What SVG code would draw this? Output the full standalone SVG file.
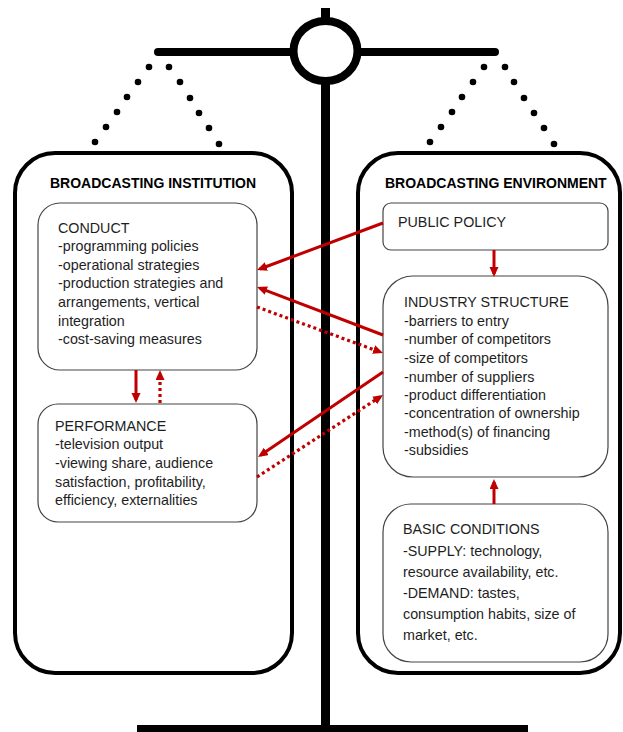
<svg xmlns="http://www.w3.org/2000/svg" width="623" height="732" viewBox="0 0 623 732">
<style>
.frame{fill:#fff;stroke:#000;stroke-width:4}
.box{fill:#fff;stroke:#444;stroke-width:1.2}
.t{font-family:"Liberation Sans",Arial,sans-serif;font-size:14.3px;fill:#1e1e1e}
.title{font-family:"Liberation Sans",Arial,sans-serif;font-size:14px;font-weight:bold;fill:#000}
.solid{stroke:#c00000;stroke-width:3;fill:none;marker-end:url(#ah)}
.dot{stroke:#c00000;stroke-width:3.2;fill:none;stroke-dasharray:3 3;marker-end:url(#ah)}
.pd{fill:#000}
</style>
<defs>
<marker id="ah" markerUnits="userSpaceOnUse" markerWidth="12" markerHeight="11" refX="7" refY="4.5" orient="auto">
<path d="M0,0 L10,4.5 L0,9 z" fill="#c00000"/>
</marker>
</defs>
<g id="scale">
<rect x="321" y="8" width="9" height="724" fill="#000"/>
<line x1="158" y1="52" x2="495" y2="52" stroke="#000" stroke-width="8" stroke-linecap="round"/>
<ellipse cx="325.5" cy="51" rx="32" ry="30" fill="#fff" stroke="#000" stroke-width="8"/>
<rect x="137" y="725" width="391" height="8" fill="#000"/>
<g class="pd">
<circle cx="149" cy="67" r="3.3"/><circle cx="138" cy="82" r="3.3"/><circle cx="127" cy="97" r="3.3"/><circle cx="117" cy="112" r="3.3"/><circle cx="106" cy="127" r="3.3"/><circle cx="95" cy="142" r="3.3"/>
<circle cx="169" cy="67" r="3.3"/><circle cx="180" cy="82" r="3.3"/><circle cx="190" cy="98" r="3.3"/><circle cx="199" cy="113" r="3.3"/><circle cx="209" cy="128" r="3.3"/><circle cx="219" cy="144" r="3.3"/>
<circle cx="484" cy="67" r="3.3"/><circle cx="473" cy="82" r="3.3"/><circle cx="462" cy="97" r="3.3"/><circle cx="452" cy="112" r="3.3"/><circle cx="441" cy="127" r="3.3"/><circle cx="430" cy="142" r="3.3"/>
<circle cx="505" cy="67" r="3.3"/><circle cx="514" cy="82" r="3.3"/><circle cx="524" cy="98" r="3.3"/><circle cx="534" cy="113" r="3.3"/><circle cx="544" cy="128" r="3.3"/><circle cx="554" cy="144" r="3.3"/>
</g>
</g>
<g id="institution">
<rect class="frame" x="15" y="153" width="277" height="520" rx="40"/>
<text class="title" x="50" y="188">BROADCASTING INSTITUTION</text>
</g>
<g id="environment">
<rect class="frame" x="358" y="153" width="262" height="520" rx="40"/>
<text class="title" x="385" y="188">BROADCASTING ENVIRONMENT</text>
</g>
<g id="conduct">
<rect class="box" x="38" y="203" width="219" height="167" rx="22"/>
<text class="t" x="58" y="233">CONDUCT</text>
<text class="t" x="58" y="251">-programming policies</text>
<text class="t" x="58" y="270">-operational strategies</text>
<text class="t" x="58" y="288">-production strategies and</text>
<text class="t" x="58" y="307">arrangements, vertical</text>
<text class="t" x="58" y="326">integration</text>
<text class="t" x="58" y="344">-cost-saving measures</text>
</g>
<g id="performance">
<rect class="box" x="38" y="404" width="219" height="118" rx="20"/>
<text class="t" x="55" y="431">PERFORMANCE</text>
<text class="t" x="55" y="449">-television output</text>
<text class="t" x="55" y="468">-viewing share, audience</text>
<text class="t" x="55" y="487">satisfaction, profitability,</text>
<text class="t" x="55" y="505">efficiency, externalities</text>
</g>
<g id="public-policy">
<rect class="box" x="383" y="203" width="225" height="47" rx="8"/>
<text class="t" x="398" y="227">PUBLIC POLICY</text>
</g>
<g id="industry-structure">
<rect class="box" x="383" y="276" width="225" height="201" rx="30"/>
<text class="t" x="404" y="307">INDUSTRY STRUCTURE</text>
<text class="t" x="404" y="326">-barriers to entry</text>
<text class="t" x="404" y="344">-number of competitors</text>
<text class="t" x="404" y="363">-size of competitors</text>
<text class="t" x="404" y="382">-number of suppliers</text>
<text class="t" x="404" y="400">-product differentiation</text>
<text class="t" x="404" y="418">-concentration of ownership</text>
<text class="t" x="404" y="437">-method(s) of financing</text>
<text class="t" x="404" y="455">-subsidies</text>
</g>
<g id="basic-conditions">
<rect class="box" x="383" y="504" width="225" height="158" rx="28"/>
<text class="t" x="403" y="534">BASIC CONDITIONS</text>
<text class="t" x="403" y="556">-SUPPLY: technology,</text>
<text class="t" x="403" y="577">resource availability, etc.</text>
<text class="t" x="403" y="598">-DEMAND: tastes,</text>
<text class="t" x="403" y="619">consumption habits, size of</text>
<text class="t" x="403" y="640">market, etc.</text>
</g>
<g id="connectors">
<line class="solid" x1="383" y1="223" x2="259.8" y2="269"/>
<line class="solid" x1="383" y1="335" x2="259.8" y2="288.1"/>
<line class="dot" x1="257" y1="307" x2="380.2" y2="352"/>
<line class="solid" x1="383" y1="372" x2="260.5" y2="455.3"/>
<line class="dot" x1="257" y1="477" x2="380.5" y2="396.6"/>
<line class="solid" x1="136" y1="370" x2="136" y2="400"/>
<line class="dot" x1="160" y1="403" x2="160" y2="373"/>
<line class="solid" x1="494" y1="250" x2="494" y2="274"/>
<line class="solid" x1="494" y1="504" x2="494" y2="482"/>
</g>
</svg>
